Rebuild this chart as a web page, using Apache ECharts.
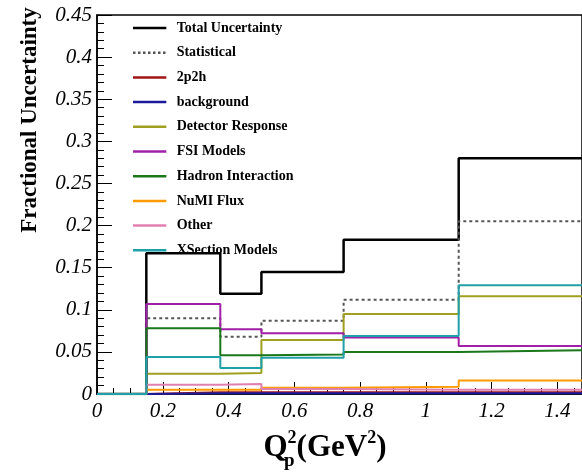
<!DOCTYPE html>
<html><head><meta charset="utf-8">
<script src="https://cdn.jsdelivr.net/npm/echarts@6/dist/echarts.min.js"></script>
<style>html,body{margin:0;padding:0;background:#fff}#c{width:582px;height:475px}</style>
</head><body><div id="c"></div>
<script>
var binEdges = [0, 0.15, 0.375, 0.5, 0.75, 1.1, 1.5];
var seriesNames = ['Total Uncertainty','Statistical','2p2h','background','Detector Response','FSI Models','Hadron Interaction','NuMI Flux','Other','XSection Models'];
var totalUnc   = [0, 0.167, 0.119, 0.145, 0.183, 0.280];
var statistical= [0, 0.090, 0.068, 0.087, 0.112, 0.205];
var twoP2h     = [0, 0.002, 0.002, 0.002, 0.002, 0.002];
var background = [0, 0.001, 0.001, 0.001, 0.001, 0.001];
var detector   = [0, 0.024, 0.025, 0.064, 0.095, 0.116];
var fsi        = [0, 0.107, 0.077, 0.072, 0.067, 0.057];
var hadron     = [0, 0.078, 0.046, 0.047, 0.050, 0.052];
var numiFlux   = [0, 0.005, 0.005, 0.0075, 0.0087, 0.016];
var other      = [0, 0.011, 0.012, 0.006, 0.005, 0.005];
var xsection   = [0, 0.044, 0.031, 0.043, 0.069, 0.129];
var yTicks = [0, 0.05, 0.1, 0.15, 0.2, 0.25, 0.3, 0.35, 0.4, 0.45];
var xTicks = [0, 0.2, 0.4, 0.6, 0.8, 1, 1.2, 1.4];

var allValues = [totalUnc, statistical, twoP2h, background, detector, fsi, hadron, numiFlux, other, xsection];
var colors = ['#000000','#555555','#a01515','#1a1a9a','#a0a020','#a020a8','#1a781a','#ff9a00','#e080b0','#20a0a8'];
var widths = [2.5, 2, 2, 2, 2, 2, 2, 2, 2, 2];

function histPts(vals){
  var pts = [];
  for (var i = 0; i < vals.length; i++) pts.push([binEdges[i], vals[i]]);
  pts.push([binEdges[vals.length], vals[vals.length-1]]);
  return pts;
}

var solidIcon = 'path://M0,0H40V3H0Z';
var dashIcon = 'path://M0,0H3V3H0Z M6,0H9V3H6Z M12,0H15V3H12Z M18,0H21V3H18Z M24,0H27V3H24Z M30,0H33V3H30Z M36,0H39V3H36Z M39.9,0H40V3H39.9Z';

var series = seriesNames.map(function(n, i){
  return {
    name: n, type: 'line', step: 'end', symbol: 'none', showSymbol: false,
    data: histPts(allValues[i]),
    lineStyle: {color: colors[i], width: widths[i], type: i === 1 ? [3,3] : 'solid'},
    itemStyle: {color: colors[i]},
    z: 2 + i, animation: false
  };
});

var chart = echarts.init(document.getElementById('c'));
var serif = 'Liberation Serif';
chart.setOption({
  animation: false,
  grid: {left: 97, top: 15, right: 0, bottom: 81, show: true, borderColor: '#000', borderWidth: 1.5, containLabel: false},
  legend: {
    orient: 'vertical', left: 128, top: 16, itemWidth: 40, itemHeight: 2.5, itemGap: 10.7,
    data: seriesNames.map(function(n, i){ return {name: n, icon: i === 1 ? dashIcon : solidIcon, itemStyle: {color: colors[i]}}; }),
    textStyle: {fontFamily: serif, fontWeight: 'bold', fontSize: 14, color: '#000', lineHeight: 14, padding: [0,0,0,2]},
    selectedMode: false
  },
  xAxis: {
    type: 'value', min: 0, max: 1.475, interval: 0.2,
    axisLine: {show: true, lineStyle: {color: '#000', width: 1.5}},
    axisTick: {show: true, inside: true, length: 12, lineStyle: {color: '#000'}},
    minorTick: {show: true, splitNumber: 4, length: 6, lineStyle: {color: '#000'}},
    splitLine: {show: false},
    axisLabel: {
      fontFamily: serif, fontStyle: 'italic', fontSize: 21, color: '#000', margin: 7,
      showMaxLabel: false,
      formatter: function(v){ var s = xTicks.find(function(t){return Math.abs(t-v)<1e-6;}); return s === undefined ? '' : String(s); }
    }
  },
  yAxis: {
    type: 'value', min: 0, max: 0.45, interval: 0.05,
    axisLine: {show: true, lineStyle: {color: '#000', width: 1.5}},
    axisTick: {show: true, inside: true, length: 15, lineStyle: {color: '#000'}},
    minorTick: {show: true, splitNumber: 5, length: 7, lineStyle: {color: '#000'}},
    splitLine: {show: false},
    axisLabel: {
      fontFamily: serif, fontStyle: 'italic', fontSize: 21, color: '#000', margin: 5,
      formatter: function(v){ var s = yTicks.find(function(t){return Math.abs(t-v)<1e-6;}); return s === undefined ? '' : String(s); }
    }
  },
  graphic: [
    {type: 'text', x: 30, y: 120, rotation: Math.PI/2, style: {
      text: 'Fractional Uncertainty', fontFamily: serif, fontWeight: 'bold', fontSize: 23,
      fill: '#000', align: 'center', verticalAlign: 'middle'}},
    {type: 'text', x: 325, y: 446, style: {
      text: '{b|Q}{s|2}{b|(GeV}{s|2}{b|)}', align: 'center', verticalAlign: 'middle',
      rich: {
        b: {fontFamily: serif, fontWeight: 'bold', fontSize: 31, fill: '#000', verticalAlign: 'bottom'},
        s: {fontFamily: serif, fontWeight: 'bold', fontSize: 18, fill: '#000', verticalAlign: 'top', padding: [0,0,16,0]}
      }}},
    {type: 'text', x: 284, y: 452, style: {text: 'p', fontFamily: serif, fontWeight: 'bold', fontSize: 19, fill: '#000'}}
  ],
  series: series
});
</script></body></html>
